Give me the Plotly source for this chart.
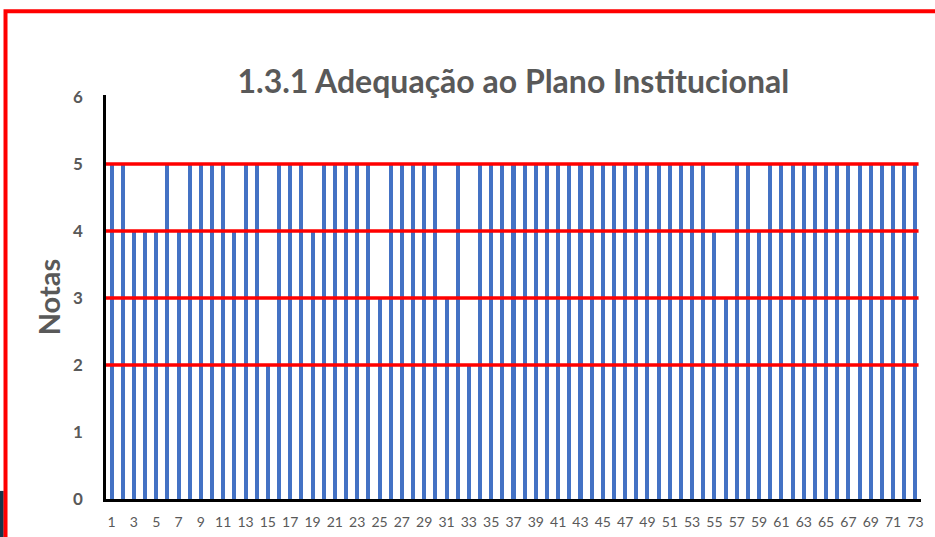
import plotly.graph_objects as go

# Data
questions = list(range(1, 74))
notas = [5, 5, 4, 4, 4, 5, 4, 5, 5, 5,
         5, 4, 5, 5, 2, 5, 5, 5, 4, 5,
         5, 5, 5, 5, 3, 5, 5, 5, 5, 5,
         3, 5, 2, 5, 5, 5, 5, 5, 5, 5,
         5, 5, 5, 5, 5, 5, 5, 5, 5, 5,
         5, 5, 5, 5, 4, 3, 5, 5, 4, 5,
         5, 5, 5, 5, 5, 5, 5, 5, 5, 5,
         5, 5, 5]
x_tick_labels = [str(q) for q in questions if q % 2 == 1]
y_tick_labels = ["0", "1", "2", "3", "4", "5", "6"]
ref_levels = [2, 3, 4, 5]

title_text = "1.3.1 Adequação ao Plano Institucional"
gray = "#595959"
font_family = "Lato, 'Open Sans', sans-serif"

fig = go.Figure()
fig.add_trace(go.Bar(
    x=questions, y=notas,
    marker=dict(color="#4472C4", line=dict(width=0)),
    width=0.36,
    hoverinfo="x+y",
))

shapes = []
for lv in ref_levels:
    shapes.append(dict(type="line", xref="paper", yref="y",
                       x0=0.0, x1=0.997, y0=lv, y1=lv,
                       line=dict(color="#FF0000", width=3.5), layer="above"))
# outer red frame
shapes.append(dict(type="rect", xref="paper", yref="paper",
                   x0=-0.1233, x1=1.08, y0=-0.3, y1=1.207,
                   line=dict(color="#FF0000", width=4), layer="above"))
# dark fragment at bottom-left corner
shapes.append(dict(type="rect", xref="paper", yref="paper",
                   x0=-0.135, x1=-0.1255, y0=-0.1, y1=0.02,
                   fillcolor="#17364A", line=dict(width=0), layer="below"))

fig.update_layout(
    width=935, height=537,
    margin=dict(l=106, r=14, t=95, b=38, autoexpand=False),
    paper_bgcolor="white", plot_bgcolor="white",
    showlegend=False,
    bargap=0,
    title=dict(text="<b>" + title_text + "</b>", x=0.549, xanchor="center",
               y=1 - 82 / 537, yanchor="middle",
               font=dict(family=font_family, size=32, color=gray)),
    xaxis=dict(
        range=[0.5, 73.5],
        automargin=False,
        tickmode="array",
        tickvals=[q for q in questions if q % 2 == 1],
        ticktext=x_tick_labels,
        tickangle=0,
        showgrid=False, zeroline=False,
        showline=True, linecolor="black", linewidth=2.5,
        ticks="", ticklabelstandoff=8,
        tickfont=dict(family=font_family, size=14, color=gray),
    ),
    yaxis=dict(
        range=[0, 6.03],
        automargin=False,
        tickmode="array",
        tickvals=list(range(7)),
        ticktext=["<b>" + t + "</b>" for t in y_tick_labels],
        showgrid=False, zeroline=False,
        showline=True, linecolor="black", linewidth=2.5,
        ticks="", ticklabelstandoff=17,
        tickfont=dict(family=font_family, size=17, color=gray),
        title=dict(text="<b>Notas</b>", standoff=4,
                   font=dict(family=font_family, size=29, color=gray)),
    ),
    shapes=shapes,
)

fig.write_html(
    "out.html",
    config={"displayModeBar": False},
    post_script=("document.documentElement.style.margin='0px';"
                 "document.documentElement.style.overflow='hidden';"
                 "document.body.style.margin='0px';"
                 "document.body.style.overflow='hidden';"),
)
